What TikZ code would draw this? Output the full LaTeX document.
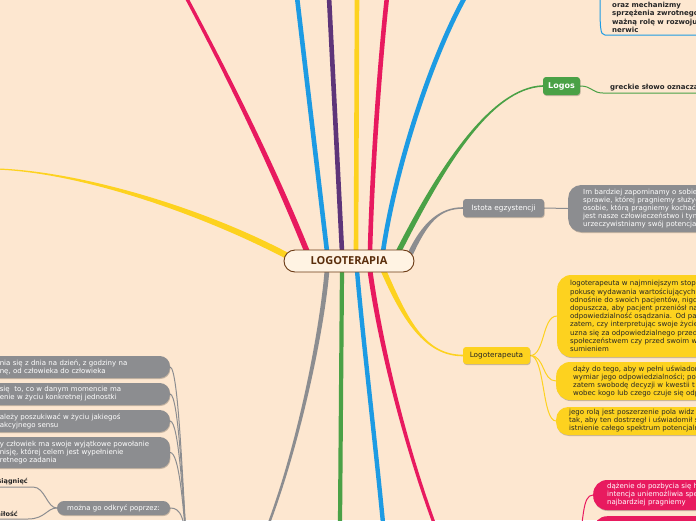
\documentclass[tikz,border=0pt]{standalone}
\usepackage{fontspec}
\setmainfont{DejaVu Sans}
\newfontfamily\titlefont{Open Sans}
\usetikzlibrary{calc,shadows}
\pgfdeclarelayer{back}
\pgfsetlayers{back,main}
\definecolor{bgc}{HTML}{FDE7D0}
\definecolor{mred}{HTML}{E81A5F}
\definecolor{mblue}{HTML}{1D9BE3}
\definecolor{mpurple}{HTML}{5E3579}
\definecolor{myellow}{HTML}{FDD21F}
\definecolor{mgreen}{HTML}{4AA146}
\definecolor{mgray}{HTML}{8C8D90}
\definecolor{cbrown}{HTML}{6B3A14}
\definecolor{cfill}{HTML}{FFF3E3}
\definecolor{ctext}{HTML}{5A2E0C}
\definecolor{txtdark}{HTML}{262626}
\newcommand\tb[7]{%
  \fill[#1] ($#2+#6$) .. controls ($#3+#6$) and ($#4+#7$) .. ($#5+#7$)
    -- ($#5-#7$) .. controls ($#4-#7$) and ($#3-#6$) .. ($#2-#6$) -- cycle;}
\tikzset{
  shd/.style={drop shadow={shadow xshift=0.6pt,shadow yshift=-1pt,opacity=0.22,fill=black}},
  rootnode/.style={draw=cbrown, line width=0.9pt, fill=cfill, rounded corners=11pt,
    minimum width=130pt, minimum height=22pt, inner sep=0pt, text=ctext,
    font=\titlefont\bfseries\fontsize{11}{13}\selectfont},
  topic/.style={shd, rounded corners=3pt, inner sep=0pt, align=center},
  sub/.style={shd, anchor=west, align=left, inner ysep=0pt, font=\fontsize{7}{8}\selectfont},
  gbox/.style={shd, anchor=east, align=left, text width=160pt, inner xsep=10pt, inner ysep=0pt,
    rounded corners=10pt, fill=mgray, text=white, font=\fontsize{7}{8}\selectfont},
  uline/.style={align=left, inner xsep=7pt, inner ysep=2.2pt, text=txtdark,
    font=\bfseries\fontsize{7}{8.3}\selectfont},
  br/.style={line width=4.6pt},
  thinline/.style={line width=1pt},
}
\begin{document}
\begin{tikzpicture}[x=1pt,y=-1pt]
\useasboundingbox (0,0) rectangle (696,520);
\begin{pgfonlayer}{back}
\fill[bgc] (0,0) rectangle (696,520);
\end{pgfonlayer}
\clip (0,0) rectangle (696,520);

% ---------- nodes ----------
\node[rootnode] (c) at (349,261) {LOGOTERAPIA};
\node[topic, fill=mgreen, text=white, minimum width=37pt, minimum height=18pt,
  font=\bfseries\fontsize{8}{9}\selectfont] (logos) at (561.5,86) {Logos};
\node[topic, fill=mgray, text=white, minimum width=81pt, minimum height=18pt,
  font=\fontsize{7.3}{8}\selectfont] (istota) at (503.5,208) {Istota egzystencji};
\node[topic, fill=myellow, text=txtdark, minimum width=67pt, minimum height=17pt,
  font=\fontsize{7.3}{8}\selectfont] (lt) at (496.5,355.5) {Logoterapeuta};
\node[topic, rounded corners=7pt, fill=mgray, text=white, minimum width=113pt, minimum height=14pt,
  font=\fontsize{7}{8}\selectfont] (odk) at (113.5,508) {można go odkryć poprzez:};

\node[sub, fill=mgray, text=white, rounded corners=13pt, minimum height=47pt, text width=140pt,
  inner xsep=15pt] (ie) at (568,208.5)
  {Im bardziej zapominamy o sobie\\sprawie, której pragniemy służyć\\osobie, którą pragniemy kochać\\jest nasze człowieczeństwo i tym\\urzeczywistniamy swój potencjał};
\node[sub, fill=myellow, text=txtdark, rounded corners=14pt, minimum height=82pt, text width=150pt,
  inner xsep=13pt, font=\fontsize{7}{8.2}\selectfont] (y1) at (557,316)
  {logoterapeuta w najmniejszym stop\\pokusę wydawania wartościujących\\odnośnie do swoich pacjentów, nigd\\dopuszcza, aby pacjent przeniósł na\\odpowiedzialność osądzania. Od pac\\zatem, czy interpretując swoje życie\\uzna się za odpowiedzialnego przed\\społeczeństwem czy przed swoim w\\sumieniem};
\node[sub, fill=myellow, text=txtdark, rounded corners=14pt, minimum height=38pt, text width=150pt,
  inner xsep=17pt] (y2) at (556,381)
  {dąży do tego, aby w pełni uświadom\\wymiar jego odpowiedzialności; po\\zatem swobodę decyzji w kwestii t\\wobec kogo lub czego czuje się odp};
\node[sub, fill=myellow, text=txtdark, rounded corners=12pt, minimum height=28pt, text width=150pt,
  inner xsep=13pt] (y3) at (556,421)
  {jego rolą jest poszerzenie pola widz\\tak, aby ten dostrzegł i uświadomił s\\istnienie całego spektrum potencjaln};
\node[sub, fill=mred, text=white, rounded corners=14pt, minimum height=30pt, text width=120pt,
  inner xsep=14pt] (r1) at (593,495)
  {dążenie do pozbycia się h\\intencja uniemożliwia spe\\najbardziej pragniemy};
\node[sub, fill=mred, anchor=north west, rounded corners=14pt, minimum height=30pt, text width=120pt,
  inner xsep=14pt] (r2) at (593,516) {};

\node[gbox, minimum height=22pt] (g1) at (170,367) {nia się z dnia na dzień, z godziny na\\nę, od człowieka do człowieka};
\node[gbox, minimum height=22pt] (g2) at (170,394) {się\ \ to, co w danym momencie ma\\enie w życiu konkretnej jednostki};
\node[gbox, minimum height=22pt] (g3) at (170,421) {ależy poszukiwać w życiu jakiegoś\\akcyjnego sensu};
\node[gbox, minimum height=31pt] (g4) at (170,452.5) {y człowiek ma swoje wyjątkowe powołanie\\nisję, której celem jest wypełnienie\\retnego zadania};

\node[uline, anchor=south west] (gl) at (603,93) {greckie słowo oznacza};
\node[uline, anchor=south west] (om) at (605,35) {oraz mechanizmy\\sprzężenia zwrotnego\\ważną rolę w rozwoju\\nerwic};
\node[uline, anchor=south east, inner xsep=5pt, font=\bfseries\fontsize{6.5}{8}\selectfont] (os) at (33,487) {osiągnięć};
\node[uline, anchor=south east, inner xsep=10pt, font=\bfseries\fontsize{6.5}{8}\selectfont] (mi) at (28,519) {miłość};

% ---------- connectors ----------
\begin{pgfonlayer}{back}
\clip (0,0) rectangle (696,520);
\coordinate (sR1) at ($(c.north)+(-42,2)$);
\coordinate (sB1) at ($(c.north)+(-22,2)$);
\coordinate (sP)  at ($(c.north)+(-7,2)$);
\coordinate (sY1) at ($(c.north)+(7,2)$);
\coordinate (sR2) at ($(c.north)+(21,2)$);
\coordinate (sB2) at ($(c.north)+(34,2)$);
\coordinate (sG)  at ($(c.north)+(49,3)$);
\coordinate (sGr) at ($(c.north)+(61,5)$);
\coordinate (sGr2) at ($(c.south)+(-22,-2)$);
\coordinate (sG2) at ($(c.south)+(-7,-2)$);
\coordinate (sB3) at ($(c.south)+(8,-2)$);
\coordinate (sR3) at ($(c.south)+(21,-2)$);
\coordinate (sY2) at ($(c.south)+(34,-3)$);
\coordinate (sY3) at ($(c.west)+(4,-5)$);
\coordinate (eR1) at (186,-3);
\coordinate (eB1) at (297,-3);
\coordinate (eP)  at (329,-3);
\coordinate (eY1) at (357,-3);
\coordinate (eR2) at (387,-3);
\coordinate (eB2) at (465,-3);
\coordinate (eY3) at (-3,169);
\coordinate (eGr2) at (269,523);
\coordinate (eG2) at (340,523);
\coordinate (eB3) at (383,523);
\coordinate (eR3) at (434,523);

\tb{mred}{(sR1)}{(270,160)}{(225,70)}{(eR1)}{(3,0)}{(1.9,0)}
\draw[br, mblue] (sB1) -- (eB1);
\draw[br, mpurple] (sP) -- (eP);
\draw[br, myellow] (sY1) -- (eY1);
\draw[br, mred] (sR2) .. controls (372,170) and (380,60) .. (eR2);
\draw[br, mblue] (sB2) .. controls (395,170) and (430,60) .. (eB2);
\tb{mgreen}{(sG)}{(440,170)}{(490,88)}{(logos.west)}{(3,0)}{(0,0.8)}
\tb{mgray}{(sGr)}{(425,222)}{(440,208)}{(istota.west)}{(3,0)}{(0,0.8)}
\tb{myellow}{(sY3)}{(200,210)}{(80,172)}{(eY3)}{(0,3.5)}{(0,0.6)}
\tb{mgray}{(sGr2)}{(322,330)}{(300,440)}{(eGr2)}{(2.4,0)}{(1.3,0)}
\draw[line width=4.2pt, mgreen] (sG2) -- (eG2);
\draw[line width=4.4pt, mblue] (sB3) .. controls (362,330) and (375,440) .. (eB3);
\tb{mred}{(sR3)}{(378,330)}{(400,430)}{(eR3)}{(2.5,0)}{(1.7,0)}
\tb{myellow}{(sY2)}{(405,320)}{(425,355.5)}{(lt.west)}{(-3,0)}{(0,0.8)}

% thin connectors
\coordinate (omp) at (600,-5);
\draw[thinline, mblue] (omp) .. controls (600,28) and (600,35) .. (om.south west) -- (om.south east);
\draw[thinline, mgreen] (logos.east) .. controls (592,86) and (592,93) .. (gl.south west) -- (gl.south east);
\draw[thinline, mgray] (istota.east) -- (ie.west);
\draw[thinline, myellow] (lt.east) .. controls (545,355.5) and (542,316) .. (y1.west);
\draw[thinline, myellow] (lt.east) .. controls (545,355.5) and (542,381) .. (y2.west);
\draw[thinline, myellow] (lt.east) .. controls (545,355.5) and (542,421) .. (y3.west);
\coordinate (rp) at (578,550);
\draw[thinline, mred] (rp) .. controls (584,520) and (582,495) .. (r1.west);
\draw[thinline, mred] (rp) .. controls (585,535) and (586,531) .. (r2.west);
\coordinate (gp) at (188,565);
\foreach \n in {g1,g2,g3,g4}
  \draw[thinline, mgray] (\n.east) .. controls ($(\n.east)+(9,0)$) and (183,500) .. (gp);
\draw[thinline, mgray] (odk.east) .. controls (180,508) and (186,515) .. (gp);
\draw[thinline, mgray] (odk.west) .. controls (47,508) and (45,487) .. (os.south east) -- (os.south west);
\draw[thinline, mgray] (odk.west) .. controls (47,508) and (45,519) .. (mi.south east) -- (mi.south west);
\end{pgfonlayer}
\end{tikzpicture}
\end{document}
